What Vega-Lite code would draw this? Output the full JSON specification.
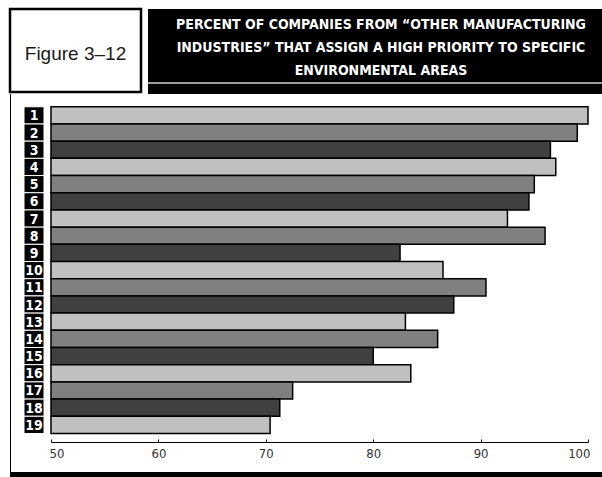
{
  "$schema": "https://vega.github.io/schema/vega-lite/v6.json",
  "background": "white",
  "padding": {"left": 8, "top": 7, "right": 0, "bottom": 0},
  "config": {
    "view": {"stroke": null},
    "concat": {"spacing": 0},
    "font": "Liberation Sans"
  },
  "datasets": {
    "priorities": [
      {"item": 1, "pct": 100},
      {"item": 2, "pct": 99},
      {"item": 3, "pct": 96.5},
      {"item": 4, "pct": 97},
      {"item": 5, "pct": 95},
      {"item": 6, "pct": 94.5},
      {"item": 7, "pct": 92.5},
      {"item": 8, "pct": 96},
      {"item": 9, "pct": 82.5},
      {"item": 10, "pct": 86.5},
      {"item": 11, "pct": 90.5},
      {"item": 12, "pct": 87.5},
      {"item": 13, "pct": 83},
      {"item": 14, "pct": 86},
      {"item": 15, "pct": 80},
      {"item": 16, "pct": 83.5},
      {"item": 17, "pct": 72.5},
      {"item": 18, "pct": 71.3},
      {"item": 19, "pct": 70.4}
    ],
    "heading": [
      {"line": 1, "t": "PERCENT OF COMPANIES FROM “OTHER MANUFACTURING"},
      {"line": 2, "t": "INDUSTRIES” THAT ASSIGN A HIGH PRIORITY TO SPECIFIC"},
      {"line": 3, "t": "ENVIRONMENTAL AREAS"}
    ]
  },
  "vconcat": [
    {
      "spacing": 5,
      "hconcat": [
        {
          "width": 131,
          "height": 83,
          "view": {"stroke": "black", "strokeWidth": 2.5, "fill": "white"},
          "data": {"values": [{"label": "Figure 3–12"}]},
          "mark": {"type": "text", "font": "Liberation Sans", "fontSize": 19, "color": "#1a1a1a", "baseline": "middle", "dy": 3},
          "encoding": {"text": {"field": "label"}}
        },
        {
          "spacing": 0,
          "vconcat": [
            {
              "width": 458,
              "height": 73,
              "view": {"fill": "black"},
              "data": {"name": "heading"},
              "mark": {"type": "text", "font": "DejaVu Sans Condensed", "fontWeight": "bold", "fontSize": 14, "color": "white", "baseline": "middle", "dx": 4},
              "encoding": {
                "y": {"field": "line", "type": "ordinal", "axis": null,
                      "scale": {"type": "point", "padding": 0.567, "align": 0.6}},
                "text": {"field": "t"}
              }
            },
            {
              "width": 458,
              "height": 2,
              "view": {"fill": "#9c9c9c"},
              "data": {"values": [{}]},
              "mark": {"type": "rect", "color": "#9c9c9c"},
              "encoding": {}
            },
            {
              "width": 458,
              "height": 10,
              "view": {"fill": "black"},
              "data": {"values": [{}]},
              "mark": {"type": "rect", "color": "black"},
              "encoding": {}
            }
          ]
        }
      ]
    },
    {
      "spacing": 12,
      "hconcat": [
        {
          "width": 1,
          "height": 378,
          "view": {"fill": "black"},
          "data": {"values": [{}]},
          "mark": {"type": "rect", "color": "black"},
          "encoding": {}
        },
        {
          "spacing": 4,
          "hconcat": [
            {
              "width": 20,
              "height": 348,
              "data": {"name": "priorities"},
              "layer": [
                {
                  "mark": {"type": "rect", "color": "black", "stroke": "white", "strokeWidth": 1},
                  "encoding": {
                    "y": {"field": "item", "type": "ordinal", "axis": null,
                          "scale": {"paddingInner": 0, "paddingOuter": 0.62, "align": 0.6}}
                  }
                },
                {
                  "mark": {"type": "text", "color": "white", "font": "DejaVu Sans Condensed", "fontWeight": "bold", "fontSize": 14, "baseline": "middle", "dy": 1},
                  "encoding": {
                    "y": {"field": "item", "type": "ordinal", "axis": null,
                          "scale": {"paddingInner": 0, "paddingOuter": 0.62, "align": 0.6}},
                    "text": {"field": "item"}
                  }
                }
              ]
            },
            {
              "width": 537,
              "height": 348,
              "data": {"name": "priorities"},
              "transform": [{"calculate": "(datum.item - 1) % 3", "as": "tone"}],
              "mark": {"type": "bar", "stroke": "black", "strokeWidth": 1.5},
              "encoding": {
                "y": {"field": "item", "type": "ordinal", "axis": null,
                      "scale": {"paddingInner": 0, "paddingOuter": 0.62, "align": 0.6}},
                "x": {
                  "field": "pct",
                  "type": "quantitative",
                  "scale": {"domain": [50, 100], "zero": false, "nice": false},
                  "axis": {
                    "values": [50, 60, 70, 80, 90, 100],
                    "title": null,
                    "grid": false,
                    "domainColor": "black",
                    "domainWidth": 1,
                    "tickColor": "black",
                    "tickSize": -3,
                    "labelPadding": 8,
                    "labelFont": "DejaVu Sans Condensed",
                    "labelFontSize": 13,
                    "labelColor": "#333333",
                    "labelFlush": true,
                    "labelFlushOffset": 2
                  }
                },
                "x2": {"datum": 50},
                "color": {
                  "field": "tone",
                  "type": "nominal",
                  "scale": {"domain": [0, 1, 2], "range": ["#c0c0c0", "#808080", "#404040"]},
                  "legend": null
                }
              }
            }
          ]
        }
      ]
    },
    {
      "width": 594,
      "height": 7,
      "view": {"fill": "black"},
      "data": {"values": [{}]},
      "mark": {"type": "rect", "color": "black"},
      "encoding": {}
    }
  ]
}
